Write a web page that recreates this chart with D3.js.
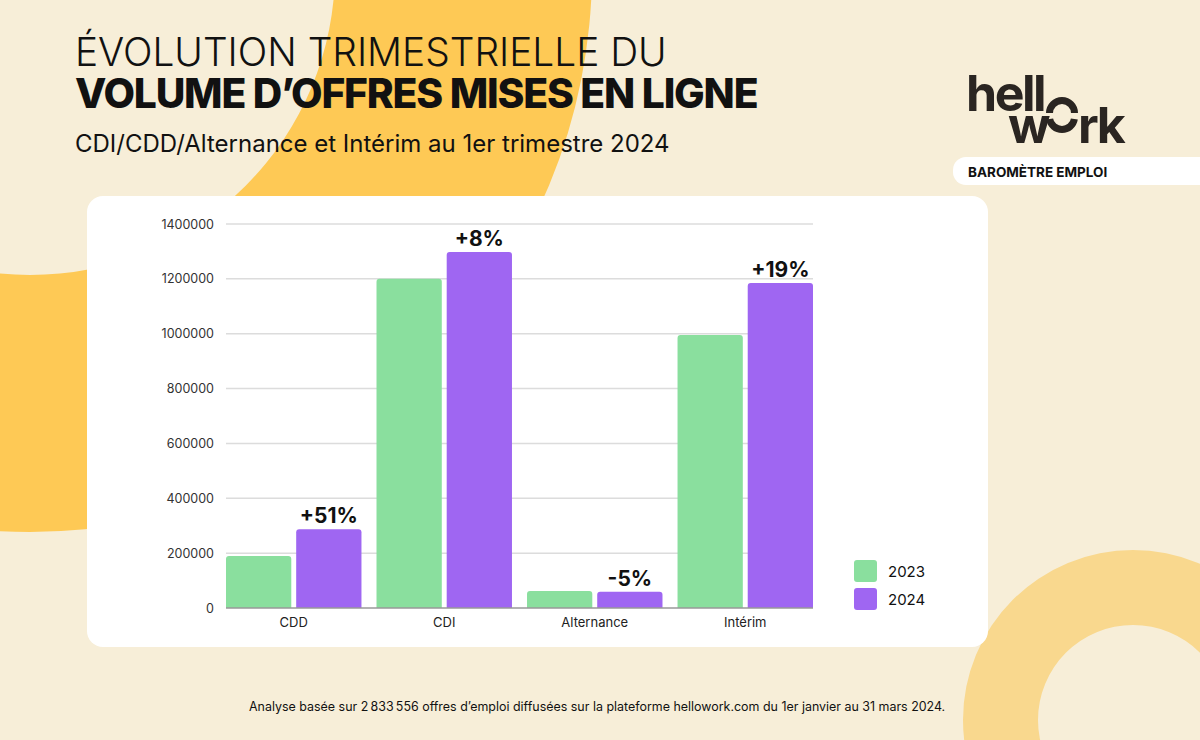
<!DOCTYPE html>
<html>
<head>
<meta charset="utf-8">
<script src="https://cdn.jsdelivr.net/npm/d3@7"></script>
<style>
  html, body { margin: 0; padding: 0; background: #f7eed8; }
  svg { display: block; font-family: Inter, "Noto Sans", sans-serif; }
</style>
</head>
<body>
<svg id="chart" width="1200" height="740"></svg>
<script>
// Data
const categories = ["CDD", "CDI", "Alternance", "Intérim"];
const seriesNames = ["2023", "2024"];
const values2023 = [190000, 1200000, 62000, 995000];
const values2024 = [287000, 1298000, 59000, 1185000];
const changeLabels = ["+51%", "+8%", "-5%", "+19%"];
const yTicks = [0, 200000, 400000, 600000, 800000, 1000000, 1200000, 1400000];
const seriesColors = ["#8adf9e", "#9f66f2"];

const svg = d3.select("#chart");

// Fit a text element to a target width by scaling its font size
function fitWidth(sel, target) {
  const size = parseFloat(sel.attr("font-size"));
  const w = sel.node().getComputedTextLength();
  sel.attr("font-size", size * target / w);
  return sel;
}

// Background shapes
const arc = d3.arc();
svg.append("path")
  .attr("transform", "translate(30,-30)")
  .attr("d", arc({ innerRadius: 305, outerRadius: 562, startAngle: 0, endAngle: 2 * Math.PI }))
  .attr("fill", "#fec955");

svg.append("path")
  .attr("transform", "translate(1133,720)")
  .attr("d", arc({ innerRadius: 95, outerRadius: 170, startAngle: 0, endAngle: 2 * Math.PI }))
  .attr("fill", "#f9d88e");

// Titles (one text, two lines)
const title = svg.append("text").attr("fill", "#111");
const t1 = title.append("tspan")
  .attr("x", 75).attr("y", 66)
  .attr("font-size", 38).attr("font-weight", 300)
  .text("ÉVOLUTION TRIMESTRIELLE DU");
const t2 = title.append("tspan")
  .attr("x", 75).attr("y", 108)
  .attr("font-size", 38).attr("font-weight", 800)
  .attr("letter-spacing", -1.2)
  .text("VOLUME D’OFFRES MISES EN LIGNE");
fitWidth(t1, 592);
fitWidth(t2, 680);

fitWidth(svg.append("text")
  .attr("x", 75).attr("y", 152)
  .attr("font-size", 21).attr("font-weight", 400)
  .attr("fill", "#111")
  .text("CDI/CDD/Alternance et Intérim au 1er trimestre 2024"), 595);

// Logo
const logo = svg.append("g").attr("fill", "#2a2521");
const logoText = logo.append("text")
  .attr("font-weight", 700).attr("font-size", 50).attr("letter-spacing", -2.5);
logoText.append("tspan").attr("x", 966).attr("y", 111).text("hell");
logoText.append("tspan").attr("x", 1008).attr("y", 143).text("w");
logoText.append("tspan").attr("x", 1078).attr("y", 143).text("rk");
logo.append("path")
  .attr("transform", "translate(1062,113)")
  .attr("d", arc({ innerRadius: 9, outerRadius: 16, startAngle: -Math.PI / 2, endAngle: Math.PI / 2 }));
logo.append("path")
  .attr("transform", "translate(1062,117)")
  .attr("d", arc({ innerRadius: 9, outerRadius: 16, startAngle: Math.PI * 0.55, endAngle: Math.PI * 1.45 }));

svg.append("rect")
  .attr("x", 953).attr("y", 157).attr("width", 280).attr("height", 28)
  .attr("rx", 13).attr("fill", "#fff");
svg.append("text")
  .attr("x", 968).attr("y", 177)
  .attr("font-size", 13.5).attr("font-weight", 700)
  .attr("fill", "#111")
  .text("BAROMÈTRE EMPLOI");

// Card
svg.append("rect")
  .attr("x", 87).attr("y", 196).attr("width", 901).attr("height", 451)
  .attr("rx", 16).attr("fill", "#fff");

// Scales
const x = d3.scaleBand().domain(categories).range([226, 813]).paddingInner(0.1);
const x1 = d3.scaleBand().domain(seriesNames).range([0, x.bandwidth()]).paddingInner(0.07);
const y = d3.scaleLinear().domain([0, 1400000]).range([608, 224]);

// Grid
svg.append("g").selectAll("line")
  .data(yTicks.filter(d => d > 0))
  .join("line")
  .attr("x1", 226).attr("x2", 813)
  .attr("y1", d => y(d)).attr("y2", d => y(d))
  .attr("stroke", "#dcdcdc").attr("stroke-width", 1.5);

svg.append("g").selectAll("text")
  .data(yTicks)
  .join("text")
  .attr("x", 214).attr("y", d => y(d) + 4.5)
  .attr("text-anchor", "end")
  .attr("font-size", 12.5).attr("fill", "#333")
  .text(d => d);

// Bars
function topRounded(x0, y0, w, h, r) {
  r = Math.min(r, h);
  return `M${x0},${y0 + h}V${y0 + r}Q${x0},${y0} ${x0 + r},${y0}H${x0 + w - r}Q${x0 + w},${y0} ${x0 + w},${y0 + r}V${y0 + h}Z`;
}

const rows = categories.map((c, i) => ({ cat: c, vals: [values2023[i], values2024[i]], label: changeLabels[i] }));

const groups = svg.append("g").selectAll("g")
  .data(rows)
  .join("g")
  .attr("transform", d => `translate(${x(d.cat)},0)`);

groups.selectAll("path")
  .data(d => d.vals.map((v, j) => ({ s: seriesNames[j], v: v, j: j })))
  .join("path")
  .attr("d", d => topRounded(x1(d.s), y(d.v), x1.bandwidth(), y(0) - y(d.v), 3))
  .attr("fill", d => seriesColors[d.j]);

groups.append("text")
  .attr("x", x1("2024") + x1.bandwidth() / 2)
  .attr("y", d => y(d.vals[1]) - 6)
  .attr("text-anchor", "middle")
  .attr("font-size", 21).attr("font-weight", 700)
  .attr("fill", "#111")
  .text(d => d.label);

// Baseline
svg.append("line")
  .attr("x1", 226).attr("x2", 813)
  .attr("y1", y(0)).attr("y2", y(0))
  .attr("stroke", "#999").attr("stroke-width", 1.5);

// Category labels
svg.append("g").selectAll("text")
  .data(categories)
  .join("text")
  .attr("x", d => x(d) + x.bandwidth() / 2)
  .attr("y", 627)
  .attr("text-anchor", "middle")
  .attr("font-size", 13).attr("fill", "#222")
  .text(d => d);

// Legend
const legend = svg.append("g").selectAll("g")
  .data(seriesNames)
  .join("g")
  .attr("transform", (d, i) => `translate(854,${560 + i * 28})`);
legend.append("rect")
  .attr("width", 23).attr("height", 22).attr("rx", 3)
  .attr("fill", (d, i) => seriesColors[i]);
legend.append("text")
  .attr("x", 34).attr("y", 17)
  .attr("font-size", 15).attr("fill", "#111")
  .text(d => d);

// Footnote
fitWidth(svg.append("text")
  .attr("x", 249).attr("y", 711)
  .attr("font-size", 12.5)
  .attr("fill", "#111")
  .text("Analyse basée sur 2\u202F833\u202F556 offres d’emploi diffusées sur la plateforme hellowork.com du 1er janvier au 31 mars 2024."), 697);
</script>
</body>
</html>
